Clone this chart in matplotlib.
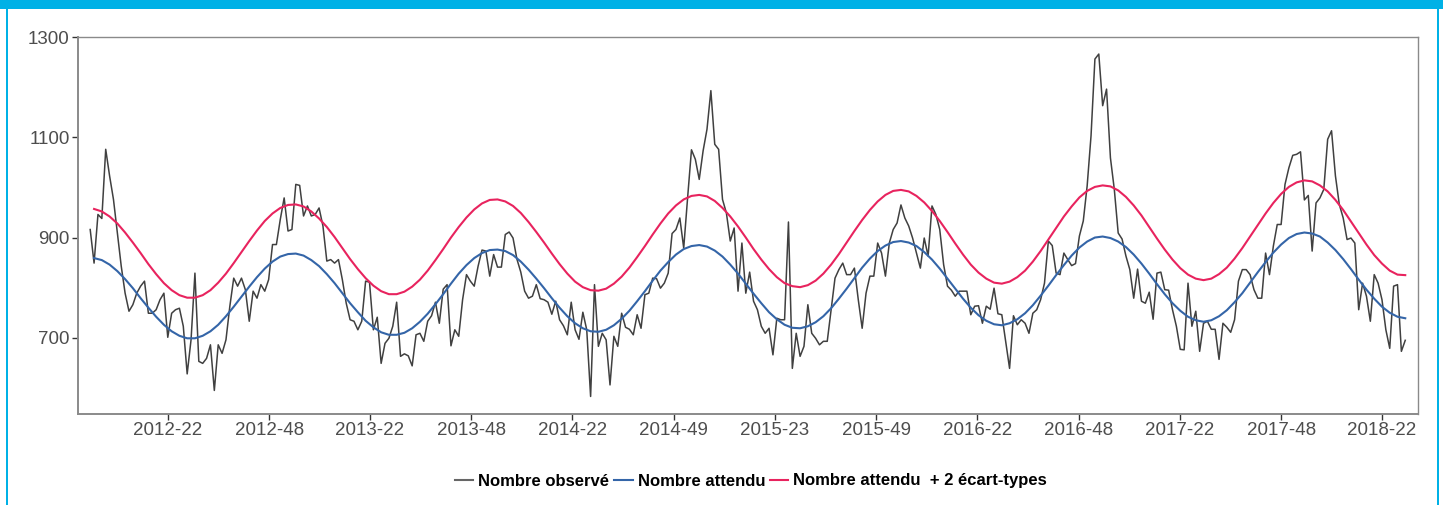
import numpy as np
import pandas as pd
import matplotlib
matplotlib.use('Agg')
import matplotlib.pyplot as plt
from matplotlib.lines import Line2D
from matplotlib.patches import Rectangle

plt.rcParams['font.family'] = ['Liberation Sans', 'DejaVu Sans']

# weekly series, first week
start_week = '2012-01-13'

observed = [
    916, 849, 946, 938, 1076, 1023, 976, 909, 843, 789,
    753, 766, 789, 803, 813, 749, 749, 756, 776, 789,
    701, 749, 756, 759, 723, 628, 696, 829, 653, 649,
    659, 686, 595, 686, 669, 696, 763, 819, 803, 819,
    796, 733, 793, 779, 806, 793, 816, 886, 886, 936,
    979, 913, 916, 1006, 1004, 943, 963, 943, 946, 959,
    923, 853, 856, 849, 856, 816, 769,
    736, 733, 716, 733, 813, 811, 716, 741, 649, 689,
    699, 723, 771, 663, 668, 664, 644, 706, 709, 693,
    733, 744, 771, 729, 797, 806, 684, 716, 703, 776,
    826, 813, 803, 843, 875, 873, 823, 866, 841, 841,
    906, 911, 899, 857, 831, 793, 779, 783, 806, 778,
    776, 771, 747, 773, 736, 724, 706, 771, 716, 697,
    751, 716, 583, 806, 683, 709, 696, 606,
    703, 683, 749, 721, 717, 706, 746, 719, 786, 789,
    819, 818, 799, 809, 829, 908, 916, 939, 879, 979,
    1075, 1056, 1016, 1073, 1116, 1193, 1086, 1076, 976, 949,
    893, 919, 793, 889, 789, 831, 773, 756, 723, 709,
    719, 666, 739, 736, 736, 931, 639, 709, 663, 683,
    766, 709, 699, 686, 693, 693, 756, 819, 836, 849,
    826, 826, 839, 776, 719, 789, 823, 823, 889,
    869, 823, 889, 916, 929, 965, 939, 923, 899, 869,
    839, 899, 863, 963, 946, 916, 846, 803, 795, 783,
    793, 793, 793, 746, 763, 764, 729, 763, 757, 799,
    748, 746, 693, 639, 744, 726, 736, 729, 709, 749,
    756, 776, 809, 893, 884, 829, 826, 869, 856, 844,
    848, 903, 933, 1003, 1103, 1256, 1266, 1163, 1196, 1059,
    996, 909, 897, 863, 836, 779, 837, 773, 769,
    791, 737, 829, 831, 796, 795, 756, 723, 677, 676,
    809, 723, 753, 673, 729, 733, 717, 717, 657, 729,
    721, 711, 736, 813, 836, 836, 826, 796, 779, 779,
    869, 826, 883, 926, 926, 1006, 1039, 1064, 1066, 1071,
    975, 984, 873, 969, 979, 996, 1096, 1113, 1023, 966,
    939, 896, 899, 889, 756, 809, 783, 733, 826, 809,
    776, 716, 679, 803, 806, 673, 695,
]

# expected values, read every 2 weeks (week index from start: 1, 3, ..., 339)
expected_weeks = list(range(1, 340, 2))
expected = [
    859, 855, 846, 833, 817, 799, 779, 760, 742, 726,
    713, 704, 699, 699, 704, 713, 726, 743, 762, 782,
    802, 821, 838, 852, 862, 867, 868, 864, 855, 843,
    827, 809, 789, 769, 751, 734, 721, 711, 706, 706,
    710, 719, 732, 748, 767, 787, 808, 828, 845, 859,
    869, 875, 876, 873, 865, 852, 836, 818, 799, 779,
    760, 743, 729, 719, 713, 712, 716, 725, 738, 754,
    773, 793, 814, 834, 851, 866, 877, 883, 885, 882,
    874, 862, 846, 828, 808, 788, 769, 751, 737, 726,
    720, 719, 723, 731, 743, 759, 778, 798, 819, 840,
    858, 873, 884, 891, 893, 890, 883, 871, 856, 838,
    818, 798, 778, 760, 745, 734, 727, 725, 729, 737,
    749, 765, 784, 804, 825, 845, 864, 880, 892, 900,
    902, 899, 892, 881, 866, 848, 828, 807, 787, 769,
    754, 742, 735, 732, 735, 743, 755, 771, 789, 810,
    831, 851, 870, 886, 899, 907, 910, 908, 902, 890,
    875, 857, 837, 816, 796, 778, 762, 750, 742, 739,
]
upper = [
    957, 952, 942, 928, 910, 890, 869, 847, 827, 809,
    795, 785, 780, 780, 785, 795, 810, 828, 849, 871,
    893, 914, 933, 948, 959, 965, 966, 962, 952, 938,
    921, 901, 879, 857, 837, 819, 804, 793, 787, 787,
    792, 802, 816, 834, 855, 877, 900, 921, 940, 956,
    968, 975, 976, 972, 963, 949, 931, 911, 890, 868,
    847, 828, 812, 801, 795, 794, 798, 808, 822, 840,
    861, 883, 906, 928, 948, 964, 976, 983, 985, 982,
    973, 959, 942, 922, 900, 877, 856, 837, 821, 809,
    803, 801, 805, 814, 828, 846, 867, 890, 913, 935,
    955, 972, 985, 993, 995, 992, 983, 970, 953, 933,
    911, 888, 866, 846, 830, 818, 810, 808, 812, 821,
    834, 852, 873, 896, 919, 942, 962, 980, 993, 1001,
    1004, 1002, 994, 981, 964, 944, 921, 898, 876, 856,
    839, 826, 818, 815, 818, 827, 840, 858, 879, 902,
    925, 948, 969, 987, 1001, 1010, 1014, 1012, 1004, 992,
    975, 955, 932, 909, 886, 865, 848, 834, 826, 825,
]

tick_dates = ['2012-06-01', '2012-12-01', '2013-06-01', '2013-12-01', '2014-06-01',
              '2014-12-01', '2015-06-01', '2015-12-01', '2016-06-01', '2016-12-01',
              '2017-06-01', '2017-12-01', '2018-06-01']
tick_labels = ['2012-22', '2012-48', '2013-22', '2013-48', '2014-22', '2014-49',
               '2015-23', '2015-49', '2016-22', '2016-48', '2017-22', '2017-48', '2018-22']
y_ticks = [700, 900, 1100, 1300]

t0 = pd.Timestamp(start_week)
obs_dates = t0 + pd.to_timedelta(np.arange(len(observed)) * 7, unit='D')
exp_dates = t0 + pd.to_timedelta(np.array(expected_weeks) * 7, unit='D')

fig = plt.figure(figsize=(14.43, 5.05), dpi=100)

# cyan frame of the page
cyan = '#00b1e6'
fig.patches.append(Rectangle((0, 1 - 9 / 505), 1, 9 / 505, transform=fig.transFigure,
                             facecolor=cyan, edgecolor='none'))
fig.patches.append(Rectangle((6 / 1443, 0), 2 / 1443, 1, transform=fig.transFigure,
                             facecolor=cyan, edgecolor='none'))
fig.patches.append(Rectangle((1437 / 1443, 0), 2 / 1443, 1, transform=fig.transFigure,
                             facecolor=cyan, edgecolor='none'))

ax = fig.add_axes([78 / 1443, 1 - 414 / 505, 1340 / 1443, 377 / 505])

c_obs = '#404040'
c_exp = '#3465a8'
c_up = '#e8235e'
ax.plot(obs_dates, observed, color=c_obs, lw=1.1)
ax.plot(exp_dates, expected, color=c_exp, lw=1.5)
ax.plot(exp_dates, upper, color=c_up, lw=1.5)

ax.set_ylim(548, 1300)
ax.set_xlim(pd.Timestamp('2011-12-22'), pd.Timestamp('2018-08-05'))
ax.set_yticks(y_ticks)
ax.set_xticks(pd.to_datetime(tick_dates))
ax.set_xticklabels(tick_labels)

for s in ax.spines.values():
    s.set_color('#8a8a8a')
    s.set_linewidth(1.0)
ax.spines['left'].set_linewidth(1.4)
ax.spines['bottom'].set_linewidth(1.4)
ax.tick_params(direction='out', length=4, width=1, color='#333333',
               labelcolor='#4d4d4d', labelsize=13.5, pad=2)

handles = [Line2D([], [], color='#666666', lw=1.5),
           Line2D([], [], color=c_exp, lw=1.5),
           Line2D([], [], color=c_up, lw=1.5)]
labels = ['Nombre observé', 'Nombre attendu', 'Nombre attendu  + 2 écart-types']
fig.legend(handles, labels, loc='center', bbox_to_anchor=(751 / 1443, 1 - 481 / 505),
           ncol=3, frameon=False, prop={'weight': 'bold', 'size': 12},
           handlelength=1.1, handletextpad=0.3, columnspacing=0.3)

fig.savefig('out.png', dpi=100)
